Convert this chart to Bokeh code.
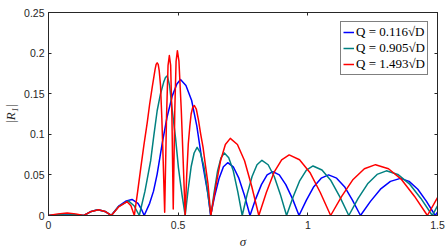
from bokeh.plotting import figure
from bokeh.models import LinearAxis, FixedTicker, Legend, LegendItem, Range1d
from bokeh.embed import file_html
from bokeh.resources import INLINE

# ---- data ----
sigma_blue = [0, 0.035, 0.07, 0.105, 0.136, 0.165, 0.19, 0.218, 0.242, 0.272, 0.30, 0.322, 0.345, 0.358, 0.369,
              0.39, 0.405, 0.419, 0.438, 0.457, 0.477, 0.495, 0.509, 0.53, 0.552, 0.572, 0.590, 0.603, 0.615, 0.625,
              0.6415, 0.658, 0.6745, 0.691, 0.7125, 0.734, 0.7555, 0.777,
              0.799, 0.821, 0.843, 0.865, 0.890, 0.915, 0.941, 0.966,
              0.9945, 1.023, 1.0515, 1.080, 1.111, 1.1415, 1.172, 1.203,
              1.2415, 1.280, 1.3185, 1.357, 1.3905, 1.424, 1.4575, 1.491, 1.5]
r_blue = [0, 0.001, 0.002, 0.001, 0, 0.005, 0.007, 0.005, 0, 0.012, 0.018, 0.0198, 0.015, 0.008, 0,
          0.015, 0.03, 0.051, 0.088, 0.121, 0.147, 0.162, 0.1675, 0.16, 0.1416, 0.11, 0.0716, 0.048, 0.026, 0,
          0.025, 0.046, 0.060, 0.065, 0.060, 0.046, 0.025, 0,
          0.0205, 0.038, 0.050, 0.054, 0.050, 0.038, 0.0205, 0,
          0.019, 0.0355, 0.046, 0.050, 0.046, 0.0355, 0.019, 0,
          0.0174, 0.0324, 0.042, 0.0457, 0.042, 0.0324, 0.0174, 0, 0.004]

sigma_teal = [0, 0.035, 0.07, 0.105, 0.136, 0.165, 0.19, 0.218, 0.242, 0.27, 0.308, 0.33, 0.35,
              0.372, 0.394, 0.406, 0.419, 0.432, 0.444, 0.451, 0.458, 0.467, 0.476, 0.49, 0.501, 0.515, 0.527,
              0.5385, 0.55, 0.5615, 0.573, 0.586, 0.5995, 0.6125, 0.626,
              0.639, 0.652, 0.665, 0.678, 0.695, 0.7125, 0.73, 0.747,
              0.766, 0.785, 0.804, 0.823, 0.847, 0.8705, 0.894, 0.918,
              0.9435, 0.969, 0.9945, 1.02, 1.0545, 1.089, 1.1235, 1.158,
              1.194, 1.2305, 1.267, 1.303, 1.347, 1.3915, 1.436, 1.48, 1.5]
r_teal = [0, 0.001, 0.002, 0.001, 0, 0.005, 0.007, 0.005, 0, 0.011, 0.018, 0.012, 0,
          0.03, 0.0675, 0.098, 0.129, 0.15, 0.164, 0.170, 0.172, 0.16, 0.133, 0.095, 0.059, 0.025, 0,
          0.032, 0.06, 0.077, 0.084, 0.077, 0.06, 0.032, 0,
          0.029, 0.055, 0.071, 0.077, 0.071, 0.055, 0.029, 0,
          0.026, 0.048, 0.0625, 0.068, 0.0625, 0.048, 0.026, 0,
          0.023, 0.043, 0.056, 0.061, 0.056, 0.043, 0.023, 0,
          0.021, 0.039, 0.0506, 0.055, 0.0506, 0.039, 0.021, 0, 0.012]

sigma_red = [0, 0.036, 0.072, 0.105, 0.136, 0.165, 0.193, 0.218, 0.242, 0.272, 0.303, 0.318, 0.331,
             0.344, 0.356, 0.368, 0.381, 0.39, 0.40, 0.411, 0.415, 0.419, 0.423, 0.427, 0.432, 0.437, 0.442, 0.448,
             0.455, 0.461, 0.466, 0.471, 0.476, 0.481,
             0.487, 0.492, 0.497, 0.503, 0.512, 0.519, 0.527,
             0.533, 0.539, 0.545, 0.55, 0.556, 0.562, 0.57, 0.578, 0.587, 0.596, 0.605, 0.615, 0.626,
             0.645, 0.6635, 0.682, 0.701, 0.7285, 0.756, 0.7835, 0.811,
             0.840, 0.8695, 0.899, 0.928, 0.968, 1.008, 1.048, 1.088,
             1.131, 1.1745, 1.218, 1.261, 1.311, 1.361, 1.411, 1.461, 1.5]
r_red = [0, 0.002, 0.003, 0.002, 0, 0.005, 0.007, 0.005, 0, 0.011, 0.017, 0.012, 0,
         0.03, 0.059, 0.087, 0.115, 0.137, 0.158, 0.18, 0.186, 0.188, 0.186, 0.178, 0.16, 0.12, 0.07, 0.004,
         0.12, 0.185, 0.197, 0.185, 0.12, 0.008,
         0.13, 0.19, 0.203, 0.19, 0.13, 0.07, 0,
         0.05, 0.088, 0.11, 0.125, 0.133, 0.1355, 0.131, 0.118, 0.1, 0.084, 0.062, 0.039, 0,
         0.036, 0.0675, 0.0875, 0.095, 0.0875, 0.0675, 0.036, 0,
         0.0283, 0.053, 0.0686, 0.0746, 0.0686, 0.053, 0.0283, 0,
         0.0238, 0.0444, 0.0576, 0.0626, 0.0576, 0.0444, 0.0238, 0, 0.022]

labels = ["Q = 0.116\u221aD", "Q = 0.905\u221aD", "Q = 1.493\u221aD"]
colors = ["#0000ff", "#008080", "#ff0000"]

x_ticks = [0, 0.5, 1, 1.5]
x_tick_labels = ["0", "0.5", "1", "1.5"]
y_ticks = [0, 0.05, 0.1, 0.15, 0.2, 0.25]
y_tick_labels = ["0", "0.05", "0.1", "0.15", "0.2", "0.25"]
x_title = "\u03c3"
y_title = "|R\u2081|"

AX = "#262626"
TICK_FONT = "Liberation Sans"

p = figure(width=448, height=252, output_backend="svg", toolbar_location=None,
           x_range=Range1d(0, 1.5), y_range=Range1d(0, 0.25),
           min_border_left=41, min_border_right=11, min_border_top=12, min_border_bottom=37)
p.xgrid.visible = False
p.ygrid.visible = False
p.outline_line_color = AX
p.outline_line_width = 1
p.background_fill_color = "white"
p.border_fill_color = "white"

renderers = []
for xs, ys, c in [(sigma_blue, r_blue, colors[0]), (sigma_teal, r_teal, colors[1]), (sigma_red, r_red, colors[2])]:
    renderers.append(p.line(xs, ys, line_color=c, line_width=1.5, line_join="round"))

def style(axis, ticks, tick_labels, show_labels, standoff):
    axis.ticker = FixedTicker(ticks=ticks)
    axis.axis_line_color = AX
    axis.major_tick_line_color = AX
    axis.major_tick_in = 3
    axis.major_tick_out = 0
    axis.minor_tick_line_color = None
    axis.major_label_text_font = TICK_FONT
    axis.major_label_standoff = standoff
    if show_labels:
        axis.major_label_overrides = {t: l for t, l in zip(ticks, tick_labels)}
        axis.major_label_text_color = AX
        axis.major_label_text_font_size = "10.5px"
    else:
        axis.major_label_overrides = {t: "" for t in ticks}
        axis.major_label_text_color = None
        axis.major_label_text_font_size = "1px"
        axis.major_label_standoff = 0

bottom = p.xaxis[0]
left = p.yaxis[0]
style(bottom, x_ticks, x_tick_labels, True, 5)
style(left, y_ticks, y_tick_labels, True, 4)

bottom.axis_label = x_title
left.axis_label = y_title
for ax in (bottom, left):
    ax.axis_label_text_font = "Liberation Serif"
    ax.axis_label_text_font_style = "italic"
    ax.axis_label_text_font_size = "13px"
    ax.axis_label_text_color = AX
bottom.axis_label_standoff = 2
left.axis_label_standoff = 3

top = LinearAxis()
style(top, x_ticks, x_tick_labels, False, 0)
p.add_layout(top, "above")
right = LinearAxis()
style(right, y_ticks, y_tick_labels, False, 0)
p.add_layout(right, "right")

legend = Legend(items=[LegendItem(label=l, renderers=[r]) for l, r in zip(labels, renderers)],
                location="top_right")
legend.margin = 9
legend.padding = 2
legend.spacing = 0
legend.glyph_width = 11
legend.glyph_height = 16
legend.label_height = 16
legend.label_standoff = 2
legend.label_text_font = "Liberation Serif"
legend.label_text_font_size = "13px"
legend.label_text_color = "black"
legend.border_line_color = "black"
legend.border_line_width = 1
legend.background_fill_alpha = 1
p.add_layout(legend)

open("out.html", "w").write(file_html(p, INLINE))
